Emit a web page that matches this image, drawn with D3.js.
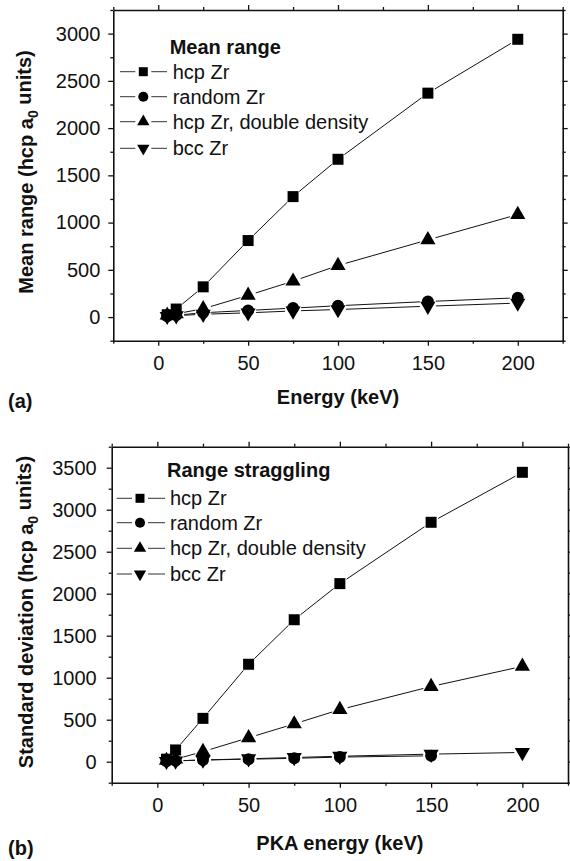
<!DOCTYPE html>
<html>
<head>
<meta charset="utf-8">
<script src="https://cdn.jsdelivr.net/npm/d3@7"></script>
<style>
  body { margin: 0; background: #fff; }
  text { font-family: "Liberation Sans", Arial, sans-serif; fill: #111; }
</style>
</head>
<body>
<div id="chart"></div>
<script>

// Energies (keV) shared by both panels
var energies = [5, 10, 25, 50, 75, 100, 150, 200];

// (a) Mean range, hcp a0 units
var meanHcp    = [25, 85, 320, 810, 1275, 1670, 2370, 2940];
var meanRandom = [10, 20, 46, 70, 95, 120, 165, 204];
var meanDouble = [20, 35, 88, 230, 380, 546, 817, 1085];
var meanBcc    = [8, 15, 30, 45, 65, 80, 115, 148];

// (b) Range straggling (standard deviation), hcp a0 units
var stdHcp    = [30, 140, 516, 1160, 1690, 2120, 2850, 3445];
var stdRandom = [5, 10, 20, 30, 40, 55, 70];
var stdDouble = [15, 30, 120, 285, 450, 620, 895, 1135];
var stdBcc    = [5, 10, 20, 35, 50, 65, 90, 110];

var seriesNames = ["hcp Zr", "random Zr", "hcp Zr, double density", "bcc Zr"];
var xMajorTicks = [0, 50, 100, 150, 200];
var xMinorTicks = [-25, 25, 75, 125, 175, 225];

var svg = d3.select("#chart").append("svg")
    .attr("width", 570)
    .attr("height", 861);

svg.append("rect").attr("width", 570).attr("height", 861).attr("fill", "#fff");

var symbols = [
    { type: d3.symbolSquare, size: 121, legSize: 81, rot: 0 },
    { type: d3.symbolCircle, size: 113, legSize: 80, rot: 0 },
    { type: d3.symbolTriangle, size: 100, legSize: 66, rot: 0 },
    { type: d3.symbolTriangle, size: 100, legSize: 66, rot: 180 }
];

var panels = [
    {
        left: 113.3, right: 562.7, top: 10, bottom: 340.7,
        yDomain: [-250, 3250], yMajor: d3.range(0, 3001, 500), yMinor: d3.range(-250, 3251, 500),
        yPad: 8, yTitle: "Mean range (hcp a", yTitleY: 172,
        xTitle: "Energy (keV)", xTitleY: 404, tag: "(a)", tagY: 408,
        legTitle: "Mean range", legX: 143.3, legTextX: 172.7, legLine: [120, 167],
        legTitleY: 46.7, legRows: [71.7, 96.7, 121.7, 148.3],
        series: [meanHcp, meanRandom, meanDouble, meanBcc]
    },
    {
        left: 111.7, right: 568, top: 446.7, bottom: 782.7,
        yDomain: [-250, 3750], yMajor: d3.range(0, 3501, 500), yMinor: d3.range(-250, 3751, 500),
        yPad: 10, yTitle: "Standard deviation (hcp a", yTitleY: 612,
        xTitle: "PKA energy (keV)", xTitleY: 850, tag: "(b)", tagY: 855,
        legTitle: "Range straggling", legX: 140, legTextX: 170, legLine: [116.7, 165],
        legTitleY: 470, legRows: [498.3, 522.7, 548.3, 574],
        series: [stdHcp, stdRandom, stdDouble, stdBcc]
    }
];

panels.forEach(drawPanel);

function drawPanel(p) {
    var x = d3.scaleLinear().domain([-25, 225]).range([p.left, p.right]);
    var y = d3.scaleLinear().domain(p.yDomain).range([p.bottom, p.top]);
    var g = svg.append("g");

    // axes: labelled bottom/left, bare top/right, minor ticks on all
    var axes = [
        { gen: d3.axisBottom, scale: x, at: "translate(0," + p.bottom + ")", major: xMajorTicks, minor: xMinorTicks, label: true, pad: 10 },
        { gen: d3.axisTop, scale: x, at: "translate(0," + p.top + ")", major: xMajorTicks, minor: xMinorTicks, label: false },
        { gen: d3.axisLeft, scale: y, at: "translate(" + p.left + ",0)", major: p.yMajor, minor: p.yMinor, label: true, pad: p.yPad },
        { gen: d3.axisRight, scale: y, at: "translate(" + p.right + ",0)", major: p.yMajor, minor: p.yMinor, label: false }
    ];

    axes.forEach(function(a) {
        var major = g.append("g")
            .attr("transform", a.at)
            .call(a.gen(a.scale).tickValues(a.major).tickSizeInner(5).tickSizeOuter(0)
                .tickPadding(a.pad || 3)
                .tickFormat(a.label ? d3.format("d") : ""));
        major.select(".domain").attr("stroke", "#111").attr("stroke-width", 1.6);
        major.selectAll(".tick line").attr("stroke", "#111").attr("stroke-width", 1.3);
        major.selectAll(".tick text")
            .style("font-size", "20px")
            .attr("fill", "#111");

        var minor = g.append("g")
            .attr("transform", a.at)
            .call(a.gen(a.scale).tickValues(a.minor).tickSizeInner(3).tickSizeOuter(0).tickFormat(""));
        minor.select(".domain").remove();
        minor.selectAll(".tick line").attr("stroke", "#111").attr("stroke-width", 1.3);
    });

    // axis titles
    g.append("text")
        .attr("x", (p.left + p.right) / 2)
        .attr("y", p.xTitleY)
        .attr("text-anchor", "middle")
        .style("font-size", "20px")
        .style("font-weight", "bold")
        .text(p.xTitle);

    g.append("text")
        .attr("x", 8)
        .attr("y", p.tagY)
        .style("font-size", "20px")
        .style("font-weight", "bold")
        .text(p.tag);

    var yt = g.append("text")
        .attr("transform", "translate(33," + p.yTitleY + ") rotate(-90)")
        .attr("text-anchor", "middle")
        .style("font-size", "20px")
        .style("font-weight", "bold");
    yt.append("tspan").text(p.yTitle);
    yt.append("tspan").attr("dy", "0.35em").style("font-size", "14px").text("0");
    yt.append("tspan").attr("dy", "-0.35em").text(" units)");

    // connecting lines, trimmed so they stop short of the markers
    var gap = 8;
    p.series.forEach(function(vals) {
        var pts = vals.map(function(v, i) { return [x(energies[i]), y(v)]; });
        for (var i = 1; i < pts.length; i++) {
            var x0 = pts[i - 1][0], y0 = pts[i - 1][1], x1 = pts[i][0], y1 = pts[i][1];
            var len = Math.hypot(x1 - x0, y1 - y0);
            if (len <= 2 * gap) continue;
            var ux = (x1 - x0) / len, uy = (y1 - y0) / len;
            g.append("line")
                .attr("x1", x0 + ux * gap).attr("y1", y0 + uy * gap)
                .attr("x2", x1 - ux * gap).attr("y2", y1 - uy * gap)
                .attr("stroke", "#111")
                .attr("stroke-width", 1);
        }
    });

    // markers
    p.series.forEach(function(vals, k) {
        var s = symbols[k];
        g.selectAll(null)
            .data(vals)
            .enter().append("path")
            .attr("d", d3.symbol().type(s.type).size(s.size))
            .attr("transform", function(d, i) {
                return "translate(" + x(energies[i]) + "," + y(d) + ") rotate(" + s.rot + ")";
            })
            .attr("fill", "#000");
    });

    // legend
    g.append("text")
        .attr("x", p.legTextX - 3)
        .attr("y", p.legTitleY + 7)
        .style("font-size", "20px")
        .style("font-weight", "bold")
        .text(p.legTitle);

    seriesNames.forEach(function(name, k) {
        var cy = p.legRows[k], s = symbols[k];
        g.append("line")
            .attr("x1", p.legLine[0]).attr("x2", p.legX - 8)
            .attr("y1", cy).attr("y2", cy)
            .attr("stroke", "#333").attr("stroke-width", 1);
        g.append("line")
            .attr("x1", p.legX + 8).attr("x2", p.legLine[1])
            .attr("y1", cy).attr("y2", cy)
            .attr("stroke", "#333").attr("stroke-width", 1);
        g.append("path")
            .attr("d", d3.symbol().type(s.type).size(s.legSize))
            .attr("transform", "translate(" + p.legX + "," + cy + ") rotate(" + s.rot + ")")
            .attr("fill", "#000");
        g.append("text")
            .attr("x", p.legTextX)
            .attr("y", cy + 7)
            .style("font-size", "20px")
            .text(name);
    });
}
</script>
</body>
</html>
